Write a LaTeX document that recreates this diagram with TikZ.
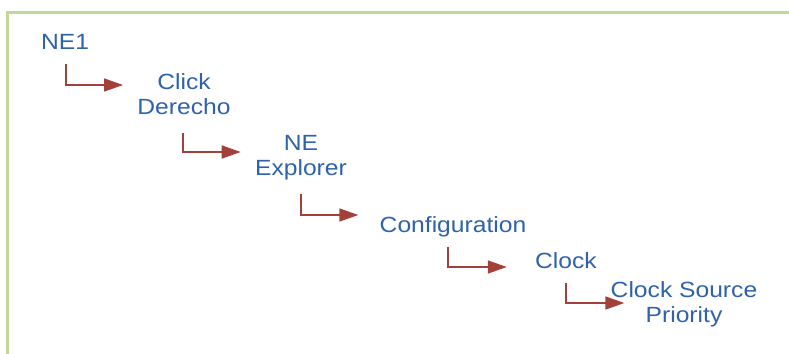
\documentclass[tikz,border=0pt]{standalone}
\usepackage{fontspec}
\newfontfamily\menufont[FakeStretch=1.12]{Liberation Sans}
\usetikzlibrary{arrows.meta, calc}
\definecolor{menublue}{HTML}{2E62AA}
\definecolor{brick}{HTML}{A3403A}
\definecolor{leaf}{HTML}{C4D79B}

\begin{document}
\begin{tikzpicture}[
      x=0.5pt, y=-0.5pt,
      item/.style={anchor=north, inner sep=0pt, align=center, text=menublue, font=\menufont\fontsize{11}{12.5}\selectfont},
      go/.style={-{Triangle[length=9.5pt, width=6.5pt]}, line width=0.8pt, brick},
      frame/.style={line width=1.2pt, leaf}
    ]
    \useasboundingbox (0,0) rectangle (789,354);
    \draw[frame] (789,12.5) -| (7.5,354);
    \node[item] (ne1) at (65,34) {NE1};
    \node[item] (click) at (184,73) {Click\\Derecho};
    \node[item] (nexp) at (301,135) {NE\\Explorer};
    \node[item] (config) at (453,216) {Configuration};
    \node[item] (clock) at (566,252) {Clock};
    \node[item] (source) at (684,281) {Clock Source\\Priority};
    \draw[go] ($(ne1.south)+(1,14)$) |- ($(click.north west)+(-14,12)$);
    \draw[go] ($(click.south)+(-1,18)$) |- ($(nexp.north west)+(-14,17)$);
    \draw[go] ($(nexp.south)+(0,13)$) |- ($(config.north west)+(-21,-1)$);
    \draw[go] ($(config.south)+(-5,10)$) |- ($(clock.north west)+(-28,15)$);
    \draw[go] ($(clock.south)+(0,14)$) |- ($(source.north west)+(14,22)$);
  \end{tikzpicture}
\end{document}
